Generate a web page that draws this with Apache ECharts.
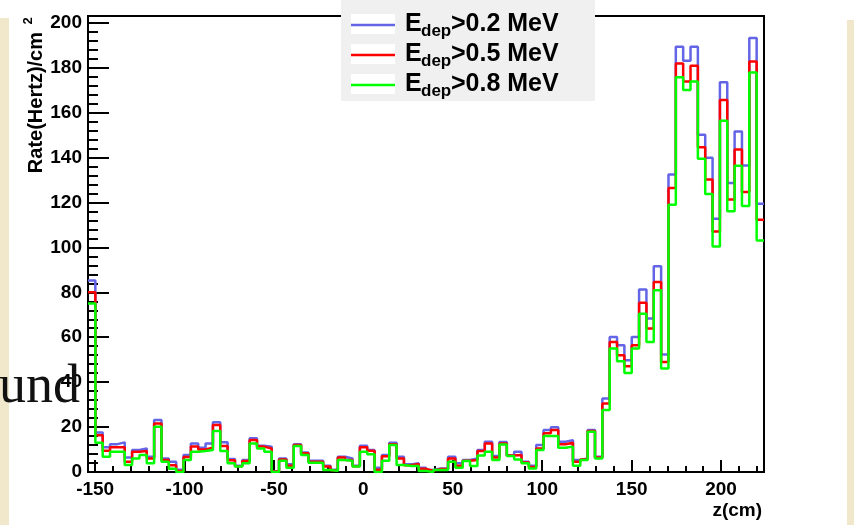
<!DOCTYPE html>
<html>
<head>
<meta charset="utf-8">
<script src="https://cdn.jsdelivr.net/npm/echarts@6/dist/echarts.min.js"></script>
<style>
  html, body { margin: 0; padding: 0; background: #fff; }
  #chart { width: 854px; height: 525px; }
</style>
</head>
<body>
<div id="chart"></div>
<script>
// histogram range along z (cm) and number of bins
const zMin = -154;
const zMax = 224;
const nBins = 92;

// rate per bin, Hz/cm^2, for each energy threshold
const rate02 = [
  85.3, 17.6, 11, 12.4, 13.2, 6.4, 9.8, 10.5, 6.8, 23.1,
  6, 4.6, 1, 7.6, 12.7, 10.8, 12.7, 22.1, 13.2, 5.8,
  2.8, 5.3, 15, 11.7, 11.3, 0.3, 6, 3.5, 12.4, 8.7,
  5, 5, 2.8, 1, 6.8, 6, 2.8, 11.7, 9.8, 1.9,
  7.6, 13, 6.8, 3.4, 3.9, 1.9, 0.9, 1.6, 1.6, 6.8,
  3.9, 5.3, 6, 9.8, 13.5, 7.1, 13.3, 7.5, 9, 4.6,
  2.8, 12, 18.7, 19.9, 13.5, 14.2, 5.3, 6, 18.7, 6.8,
  32.7, 60.1, 56.4, 49.8, 60.1, 81.2, 68.3, 91.6, 52.3, 132.4,
  189.3, 183.1, 189.3, 150.1, 139.9, 112.7, 173.5, 128.7, 151.6, 136.4,
  193.2, 119.4
];
const rate05 = [
  80, 16.4, 9.5, 11, 11, 4.6, 9, 9.3, 6, 21.6,
  5.3, 3, 0.5, 6.7, 11.3, 10, 10.8, 20.9, 11.6, 5.2,
  2.6, 4.9, 14.2, 11.3, 10.5, 0.2, 5.6, 2.8, 12, 8.3,
  4.6, 4.6, 2.4, 0.8, 6.4, 5.3, 2.6, 11, 9.5, 1,
  7, 12.4, 6, 3, 3.6, 1.4, 0.6, 1.3, 1.3, 6,
  2.8, 5, 5.3, 9.3, 12.7, 6.5, 12.7, 7.3, 7.6, 4.2,
  2.2, 10.5, 17.2, 18.7, 12.4, 13, 4.6, 5.6, 18.2, 6.4,
  30.5, 57.9, 52, 47.1, 56.4, 75.3, 63.9, 84.6, 49, 126.4,
  181.9, 173.8, 180.9, 144.6, 130.2, 107.1, 165.6, 121.3, 143.6, 124.6,
  182.8, 112.3
];
const rate08 = [
  75, 13, 6.8, 9, 9, 3.1, 6, 7.6, 3.9, 20.1,
  4.6, 1.5, 0, 5.3, 9, 9.3, 9.8, 18.2, 9.3, 3.9,
  2.4, 3.9, 12.7, 10.5, 9, 0, 5, 1.9, 11.6, 7.6,
  4.1, 4.1, 0.9, 0.5, 5.3, 5, 2.4, 9, 7.9, 0,
  5, 12, 3.1, 2.7, 2.7, 0.4, 0, 0.9, 0.9, 4.6,
  1.9, 4.9, 2.7, 7.3, 9, 5.3, 12.2, 7.1, 5.6, 3.9,
  1.6, 9.8, 16, 16, 10.8, 11.3, 2.8, 5.3, 17.9, 6,
  27.6, 55, 49.3, 44.1, 55, 70.5, 57.9, 80.9, 46.1, 119,
  175.7, 170.1, 173.8, 139.4, 123.8, 100.4, 156.4, 116.1, 136.3, 118.4,
  177.9, 103.1
];

const thresholds = ['>0.2 MeV', '>0.5 MeV', '>0.8 MeV'];
const colors = ['#6464e6', '#ff0000', '#00ff00'];

const FONT = '"Liberation Sans", Arial, sans-serif';
const binWidth = (zMax - zMin) / nBins;

// step data: one point at each bin's low edge, plus the closing edge
function histData(vals) {
  let d = vals.map((v, i) => [zMin + i * binWidth, v]);
  d.push([zMax, vals[vals.length - 1]]);
  return d;
}

let chart = echarts.init(document.getElementById('chart'), null, { renderer: 'canvas' });

// legend drawn like the ROOT TLegend box
let legendItems = [{
  type: 'rect',
  shape: { x: 341, y: 0, width: 254, height: 101 },
  style: { fill: '#f0f0f0' },
  z: 100
}];
thresholds.forEach((t, k) => {
  let yc = 24 + 30 * k;
  legendItems.push(
    { type: 'rect', shape: { x: 351, y: yc - 10, width: 44, height: 20 }, style: { fill: '#fff' }, z: 101 },
    { type: 'line', shape: { x1: 351, y1: yc + 1, x2: 395, y2: yc + 1 }, style: { stroke: colors[k], lineWidth: 2.5 }, z: 102 },
    { type: 'text', x: 405, y: yc, style: { text: 'E', font: 'bold 25px ' + FONT, fill: '#000', verticalAlign: 'middle' }, z: 102 },
    { type: 'text', x: 421, y: yc + 7, style: { text: 'dep', font: 'bold 17px ' + FONT, fill: '#000', verticalAlign: 'middle' }, z: 102 },
    { type: 'text', x: 451, y: yc, style: { text: t, font: 'bold 25px ' + FONT, fill: '#000', verticalAlign: 'middle' }, z: 102 }
  );
});

let option = {
  animation: false,
  backgroundColor: '#fff',
  grid: {
    left: 88,
    right: 90,
    top: 16,
    bottom: 53,
    show: true,
    backgroundColor: '#fff',
    borderColor: '#000',
    borderWidth: 2
  },
  xAxis: [{
    type: 'value',
    min: zMin,
    max: zMax,
    minInterval: 50,
    maxInterval: 50,
    splitNumber: 8,
    axisLine: { onZero: false, lineStyle: { color: '#000', width: 2 } },
    axisTick: { inside: true, length: 12, lineStyle: { color: '#000', width: 2 } },
    axisLabel: {
      color: '#000', fontFamily: FONT, fontWeight: 'bold', fontSize: 19, margin: 8,
      showMinLabel: false, showMaxLabel: false
    },
    splitLine: { show: false }
  }, {
    type: 'value',
    min: zMin,
    max: zMax,
    minInterval: 10,
    maxInterval: 10,
    splitNumber: 40,
    position: 'bottom',
    axisLine: { show: false, onZero: false },
    axisTick: { inside: true, length: 6, lineStyle: { color: '#000', width: 2 } },
    axisLabel: { show: false },
    splitLine: { show: false }
  }],
  yAxis: [{
    type: 'value',
    min: 0,
    max: 203,
    minInterval: 20,
    maxInterval: 20,
    splitNumber: 10,
    axisLine: { show: true, onZero: false, lineStyle: { color: '#000', width: 2 } },
    axisTick: { show: true, inside: true, length: 21, lineStyle: { color: '#000', width: 2 } },
    axisLabel: {
      color: '#000', fontFamily: FONT, fontWeight: 'bold', fontSize: 19, margin: 6,
      showMaxLabel: false
    },
    splitLine: { show: false }
  }, {
    type: 'value',
    min: 0,
    max: 203,
    minInterval: 4,
    maxInterval: 4,
    splitNumber: 50,
    position: 'left',
    axisLine: { show: false, onZero: false },
    axisTick: { show: true, inside: true, length: 10, lineStyle: { color: '#000', width: 2 } },
    axisLabel: { show: false },
    splitLine: { show: false }
  }],
  series: [rate02, rate05, rate08].map((vals, k) => ({
    name: 'Edep' + thresholds[k],
    type: 'line',
    step: 'end',
    symbol: 'none',
    xAxisIndex: 0,
    yAxisIndex: 0,
    lineStyle: { color: colors[k], width: 2.5 },
    data: histData(vals),
    z: 3 + k
  })),
  graphic: [
    // slide background strips around the pasted plot
    { type: 'rect', shape: { x: 0, y: 18, width: 9, height: 507 }, style: { fill: '#f1e8cc' }, z: 0 },
    { type: 'rect', shape: { x: 847, y: 20, width: 7, height: 505 }, style: { fill: '#f1e8cc' }, z: 0 },
    {
      type: 'text', x: 36, y: 32, rotation: Math.PI / 2,
      style: { text: 'Rate(Hertz)/cm', font: 'bold 20px ' + FONT, fill: '#000', align: 'right', verticalAlign: 'middle' }
    },
    {
      type: 'text', x: 28, y: 21, rotation: Math.PI / 2,
      style: { text: '2', font: 'bold 13px ' + FONT, fill: '#000', align: 'center', verticalAlign: 'middle' }
    },
    {
      type: 'text', x: 762, y: 511,
      style: { text: 'z(cm)', font: 'bold 19px ' + FONT, fill: '#000', align: 'right', verticalAlign: 'middle' }
    },
    {
      type: 'text', x: 80, y: 388,
      style: { text: 'und', font: '54px "Liberation Serif", "Times New Roman", serif', fill: '#111', align: 'right', verticalAlign: 'middle' },
      z: 200
    },
    { type: 'group', children: legendItems, z: 100 }
  ]
};
chart.setOption(option);
</script>
</body>
</html>
